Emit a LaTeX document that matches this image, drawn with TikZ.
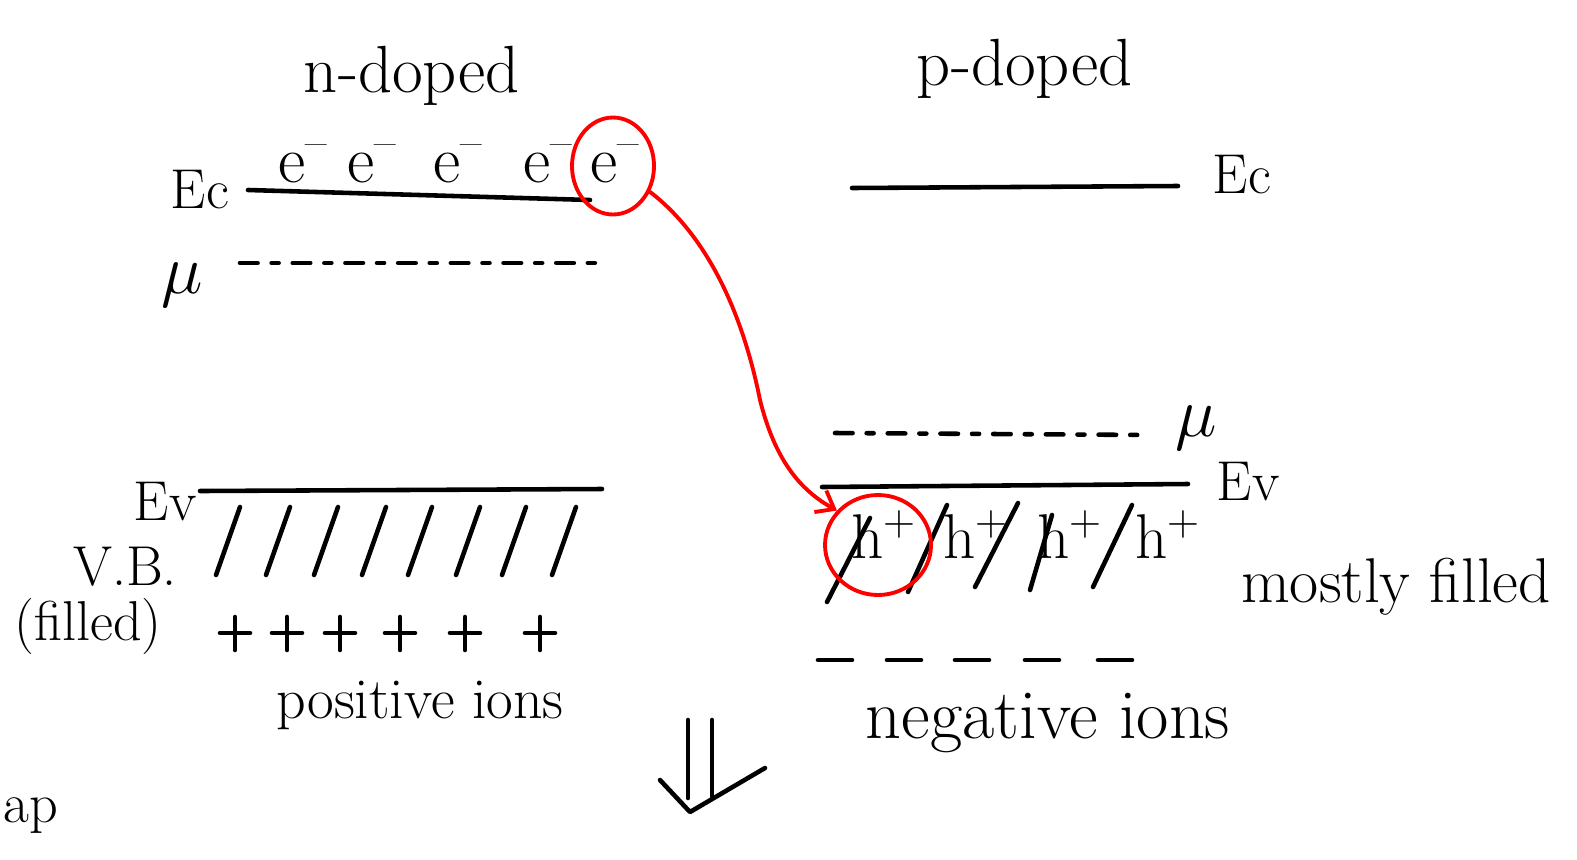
\RequirePackage{fix-cm}
\documentclass[tikz,border=0pt]{standalone}
\usetikzlibrary{shapes.geometric, arrows.meta, positioning}

\begin{document}
\begin{tikzpicture}[x=0.02cm, y=-0.02cm,
  hand/.style={line width=2.6pt, line cap=round, line join=round},
  band/.style={hand},
  fermi/.style={hand, dash pattern=on 10pt off 8pt on 4pt off 8pt},
  redline/.style={draw=red, line width=2.2pt, line cap=round},
  redring/.style={ellipse, draw=red, line width=2.2pt, inner sep=0pt},
  lbl/.style={font=\fontsize{32}{34}\selectfont, inner sep=0pt},
  heading/.style={font=\fontsize{38}{40}\selectfont, inner sep=0pt}]
  \useasboundingbox (0,0) rectangle (1577,859);

  \node[heading, anchor=base] (ntitle) at (412,92) {n-doped};
  \node[heading, anchor=base] (ptitle) at (1025,85) {p-doped};

  % n side
  \coordinate (ecn) at (248,190);
  \draw[band] (ecn) -- (590,200);
  \node[lbl, anchor=base] (ecnlbl) at (200,208) {Ec};
  \foreach \x [count=\i] in {303,372,458,548,615}
    \node[lbl, font=\fontsize{38}{40}\selectfont, anchor=base] (e\i) at (\x,182) {e\textsuperscript{\textendash}};
  \node[redring, minimum width=1.64cm, minimum height=1.94cm] (ering) at (613,166) {};

  \draw[fermi] (240,263) -- (600,263);
  \node[lbl, font=\fontsize{40}{40}\selectfont] (mun) at (182,285) {$\mu$};

  \coordinate (evn) at (200,491);
  \draw[band] (evn) -- (602,489);
  \node[lbl, anchor=base] (evnlbl) at (165,520) {Ev};
  \foreach \x in {240,290,338,386,432,480,526,576}
    \draw[hand] (\x,507) -- ++(-24,68);
  \node[lbl, anchor=base] (vb) at (125,585) {V.B.};
  \node[lbl, anchor=base] (filled) at (88,640) {(filled)};
  \foreach \x in {235,287,340,400,465,540}
    \draw[hand] (\x-15,633) -- (\x+15,633) (\x,617) -- (\x,650);
  \node[lbl, font=\fontsize{33}{35}\selectfont, anchor=base] (pions) at (420,718) {positive ions};
  \node[lbl, anchor=base west] (gap) at (3,822) {ap};

  % p side
  \draw[band] (852,188) -- (1178,186);
  \node[lbl, anchor=base] (ecplbl) at (1242,193) {Ec};
  \draw[fermi] (835,433) -- (1150,435);
  \node[lbl, font=\fontsize{40}{40}\selectfont] (mup) at (1196,428) {$\mu$};
  \draw[band] (822,487) -- (1188,484);
  \node[lbl, anchor=base] (evplbl) at (1248,500) {Ev};
  \foreach \x [count=\i] in {884,976,1070,1168}
    \node[lbl, font=\fontsize{36}{38}\selectfont, anchor=base] (h\i) at (\x,558) {h\textsuperscript{+}};
  \foreach \a/\b/\c/\d in {827/602/870/518, 947/505/908/592, 1018/503/975/587, 1052/515/1030/590, 1132/505/1093/587}
    \draw[hand] (\a,\b) -- (\c,\d);
  \node[redring, minimum width=2.12cm, minimum height=2.0cm] (hring) at (878,545) {};
  \node[lbl, font=\fontsize{36}{38}\selectfont, anchor=base] (mostly) at (1396,602) {mostly filled};
  \foreach \x in {818,887,955,1025,1098}
    \draw[hand] (\x,660) -- ++(34,0);
  \node[lbl, font=\fontsize{40}{42}\selectfont, anchor=base] (nions) at (1048,738) {negative ions};

  \draw[redline, -{Straight Barb[length=9pt, width=14pt]}] (ering.-35)
    .. controls (700,230) and (740,300) .. (760,400)
    .. controls (775,460) and (800,490) .. (hring.140);

  \coordinate (dn) at (700,720);
  \draw[hand] (dn) ++(-12,0) -- ++(0,78) (dn) ++(12,0) -- ++(0,76);
  \draw[hand] (dn) ++(-40,60) -- ++(30,32) -- ++(75,-44);
\end{tikzpicture}
\end{document}
